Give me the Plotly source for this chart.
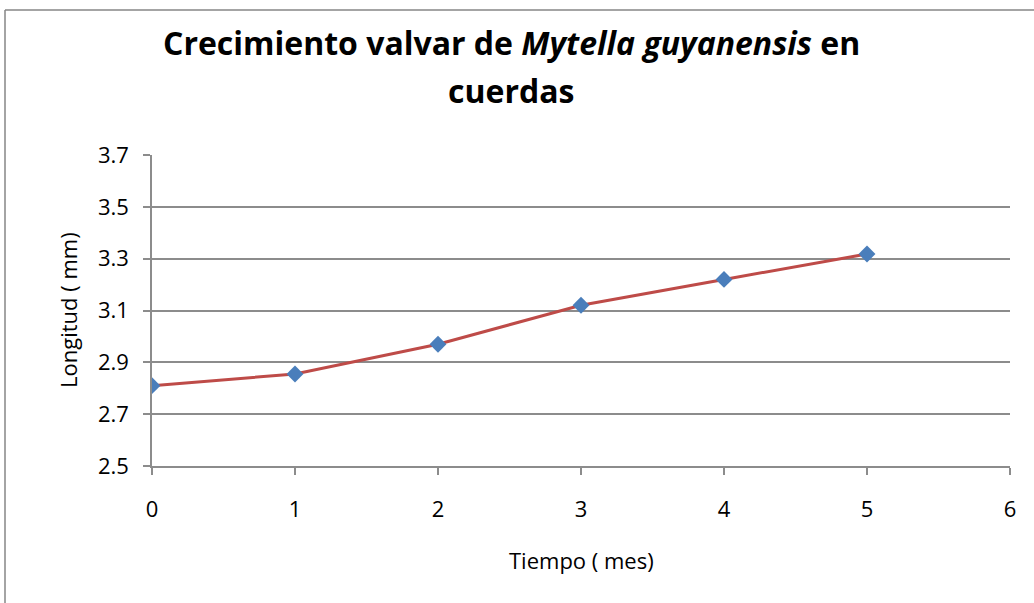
import plotly.graph_objects as go

months = [0, 1, 2, 3, 4, 5]
length_mm = [2.81, 2.855, 2.97, 3.12, 3.22, 3.318]
x_ticks = [0, 1, 2, 3, 4, 5, 6]
y_ticks = [2.5, 2.7, 2.9, 3.1, 3.3, 3.5, 3.7]

FONT = "Open Sans, Arial, sans-serif"
GRID = "#8c8c8c"

W, H = 1034, 603
L, R, T, B = 152, 24, 155, 137
pw, ph = W - L - R, H - T - B

def px(x):
    return (x - L) / pw

def py(y):
    return (H - B - y) / ph

fig = go.Figure()
fig.add_trace(go.Scatter(
    x=months, y=length_mm, mode="lines+markers",
    line=dict(color="#be4b48", width=3),
    marker=dict(symbol="diamond", size=13, color="#4a7ebb"),
    showlegend=False,
))

fig.update_layout(
    width=W, height=H,
    margin=dict(l=L, r=R, t=T, b=B),
    paper_bgcolor="white", plot_bgcolor="white",
    font=dict(family=FONT, color="black", size=22),
    xaxis=dict(
        range=[0, 6], tickvals=x_ticks, showgrid=False, zeroline=False,
        showline=True, linecolor=GRID, linewidth=1.5,
        ticks="outside", ticklen=7, tickcolor=GRID, tickwidth=1.5,
        ticklabelstandoff=16, tickfont=dict(size=22),
    ),
    yaxis=dict(
        range=[2.5, 3.7], tickvals=y_ticks, tickformat=".1f",
        showgrid=True, gridcolor=GRID, gridwidth=1.5, zeroline=False,
        showline=True, linecolor=GRID, linewidth=1.5,
        ticks="outside", ticklen=7, tickcolor=GRID, tickwidth=1.5,
        ticklabelstandoff=10, tickfont=dict(size=22),
    ),
    annotations=[
        dict(text="<b>Crecimiento valvar de <i>Mytella guyanensis</i> en</b>",
             xref="paper", yref="paper", x=px(511), y=py(42),
             xanchor="center", yanchor="middle", showarrow=False,
             font=dict(size=32, family=FONT)),
        dict(text="<b>cuerdas</b>",
             xref="paper", yref="paper", x=px(511), y=py(90),
             xanchor="center", yanchor="middle", showarrow=False,
             font=dict(size=32, family=FONT)),
        dict(text="Tiempo ( mes)", xref="paper", yref="paper",
             x=px(581), y=py(560), xanchor="center", yanchor="middle",
             showarrow=False, font=dict(size=22, family=FONT)),
        dict(text="Longitud ( mm)", xref="paper", yref="paper",
             x=px(68), y=py(310), xanchor="center", yanchor="middle",
             textangle=-90, showarrow=False, font=dict(size=22, family=FONT)),
    ],
    shapes=[
        dict(type="line", xref="paper", yref="paper",
             x0=px(5), x1=px(5), y0=py(10), y1=py(620),
             line=dict(color="#868686", width=1.5)),
        dict(type="line", xref="paper", yref="paper",
             x0=px(5), x1=px(1050), y0=py(10), y1=py(10),
             line=dict(color="#868686", width=1.5)),
    ],
)

fig.write_html("out.html", config={"displayModeBar": False},
               post_script="document.body.style.margin='0';")
